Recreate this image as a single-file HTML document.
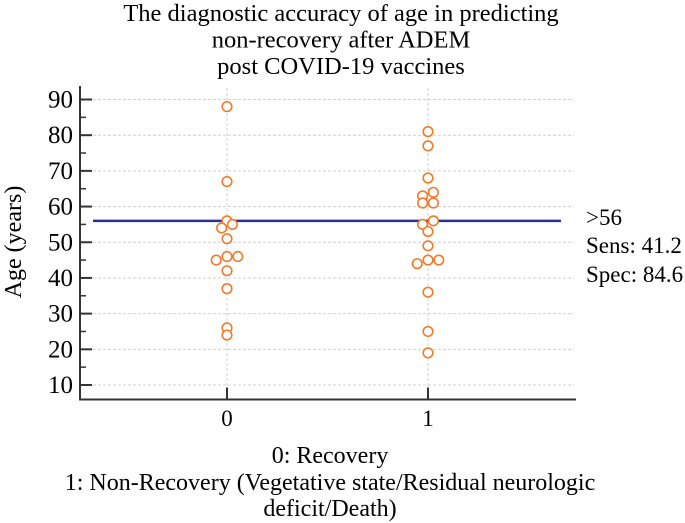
<!DOCTYPE html>
<html><head><meta charset="utf-8"><style>
body{margin:0;background:#fff;}
svg{display:block;font-family:"Liberation Serif",serif;}
</style></head><body>
<svg id="chart" width="685" height="523">
<g font-size="24.5" text-anchor="middle" fill="#000">
<text x="341" y="21">The diagnostic accuracy of age in predicting</text>
<text x="341" y="47.5">non-recovery after ADEM</text>
<text x="341" y="74">post COVID-19 vaccines</text>
</g>
<g id="grid"></g><g id="axes"></g><g id="marks"></g>
<text font-size="24" text-anchor="middle" transform="translate(21,242) rotate(-90)">Age (years)</text>
<g font-size="23" fill="#000">
<text x="586" y="225">&gt;56</text>
<text x="586" y="253">Sens: 41.2</text>
<text x="586" y="282">Spec: 84.6</text>
</g>
<g font-size="24" text-anchor="middle">
<text x="330" y="463">0: Recovery</text>
<text x="330" y="490">1: Non-Recovery (Vegetative state/Residual neurologic</text>
<text x="330" y="516">deficit/Death)</text>
</g>
</svg>
<script>
const categories=[0,1];
const yTicks=[10,20,30,40,50,60,70,80,90];
const minorTicks=[15,25,35,45,55,65,75,85];
const group0=[88,67,56,54,55,51,46,45,46,42,37,26,24];
const group1=[81,77,68,64,63,61,61,56,55,53,49,45,45,44,36,25,19];
const jitter0=[0,0,0,-1,1,0,0,-2,2,0,0,0,0];
const jitter1=[0,0,0,1,-1,-1,1,1,-1,0,0,0,2,-2,0,0,0];
const cutoff=56;
const NS="http://www.w3.org/2000/svg";
const AX=80,GL=93,GR=574,LR=561,AR=576,T=99.5,B=385,XA=399.5;
const y=v=>B-(v-10)*(B-T)/80;
const x=c=>227+c*201;
function mk(t,a,p){const e=document.createElementNS(NS,t);for(const k in a)e.setAttribute(k,a[k]);p.appendChild(e);return e;}
const grid=document.getElementById('grid'),axes=document.getElementById('axes'),marks=document.getElementById('marks');
yTicks.forEach(v=>{
 const g=mk('line',{x1:GL,x2:GR,y1:y(v),y2:y(v),stroke:'#d0d0d0','stroke-dasharray':'3,2'},grid);
 
 
 const t=mk('line',{x1:AX,x2:AX+12,y1:y(v),y2:y(v),stroke:'#333','stroke-width':2},axes);
 
 
 const l=mk('text',{x:AX-7,y:y(v)+8,'text-anchor':'end','font-size':25},axes);
 l.textContent=v;
 
 
});
minorTicks.forEach(v=>{
 const t=mk('line',{x1:AX,x2:AX+6,y1:y(v),y2:y(v),stroke:'#333','stroke-width':1.5},axes);
 
 
});
categories.forEach(c=>{
 const g=mk('line',{x1:x(c),x2:x(c),y1:88,y2:XA,stroke:'#d0d0d0','stroke-dasharray':'3,2'},grid);
 
 
 const t=mk('line',{x1:x(c),x2:x(c),y1:XA-12,y2:XA,stroke:'#333','stroke-width':2},axes);
 
 
 const l=mk('text',{x:x(c),y:426,'text-anchor':'middle','font-size':23},axes);
 l.textContent=c;
 
 
});
const ya=mk('line',{x1:AX,x2:AX,y1:86,y2:XA+1,stroke:'#333','stroke-width':2},axes);


const xa=mk('line',{x1:AX,x2:AR,y1:XA,y2:XA,stroke:'#333','stroke-width':2},axes);


const cl=mk('line',{x1:GL,x2:LR,y1:y(cutoff),y2:y(cutoff),stroke:'#2e2e9a','stroke-width':2.5},marks);


[[group0,jitter0,0],[group1,jitter1,1]].forEach(([vals,jit,c])=>{
 vals.forEach((v,i)=>{
  const p=mk('circle',{cx:x(c)+jit[i]*5.4,cy:y(v),r:4.8,fill:'#fff',stroke:'#f47a2a','stroke-width':1.6},marks);
  
  
 });
});
</script>
</body></html>
